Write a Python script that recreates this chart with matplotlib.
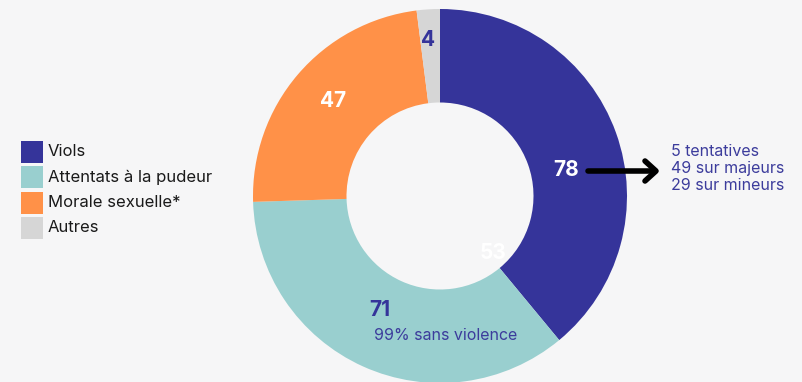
import matplotlib
matplotlib.use("Agg")
import matplotlib.pyplot as plt
from matplotlib.patches import Rectangle

categories = ["Viols", "Attentats à la pudeur", "Morale sexuelle*", "Autres"]
values = [78, 71, 47, 4]
colors = ["#35349a", "#99cfcf", "#ff9148", "#d6d6d6"]
label_colors = ["white", "#35349a", "white", "#35349a"]
viols_detail = ["5 tentatives", "49 sur majeurs", "29 sur mineurs"]
attentats_note = "99% sans violence"
extra_label = "53"

W, H = 803, 382
bg = "#f6f6f7"
plt.rcParams["font.family"] = ["Inter", "DejaVu Sans"]

fig = plt.figure(figsize=(W / 100, H / 100), dpi=100, facecolor=bg)
ax = fig.add_axes([0, 0, 1, 1])
ax.set_xlim(0, W)
ax.set_ylim(0, H)
ax.set_aspect("equal")
ax.axis("off")
ax.set_facecolor(bg)

cx, cy, r = 440, H - 196, 187
wedges, _ = ax.pie(values, colors=colors, startangle=90, counterclock=False,
                   center=(cx, cy), radius=r,
                   wedgeprops=dict(width=r * 0.5, linewidth=0))
ax.set_xlim(0, W)
ax.set_ylim(0, H)

# value labels on the ring
label_pos = [(566, 170), (380, 310), (333, 101), (428, 40)]
for v, (x, y), c in zip(values, label_pos, label_colors):
    ax.text(x, H - y, str(v), color=c, fontsize=15, fontweight="bold",
            ha="center", va="center")
ax.text(493, H - 253, extra_label, color="white", fontsize=15,
        fontweight="bold", ha="center", va="center")

# arrow to the breakdown of Viols: shaft plus open chevron head
ay = H - 171
ax.plot([588, 655], [ay, ay], color="black", lw=4, solid_capstyle="round")
ax.plot([645, 656, 645], [ay + 10, ay, ay - 10], color="black", lw=4,
        solid_capstyle="round", solid_joinstyle="round")
for i, t in enumerate(viols_detail):
    ax.text(671, H - (152 + i * 17), t, color="#3c3c9c", fontsize=11.5,
            ha="left", va="center")
ax.text(374, H - 336, attentats_note, color="#3c3c9c", fontsize=11.5,
        ha="left", va="center")

# legend
for i, (name, col) in enumerate(zip(categories, colors)):
    y = 152 + i * 25.3
    ax.add_patch(Rectangle((21, H - y - 11), 22, 22, color=col, lw=0))
    ax.text(48, H - y, name, color="#1a1a1a", fontsize=12,
            ha="left", va="center")

fig.savefig("out.png", dpi=100, facecolor=bg)
